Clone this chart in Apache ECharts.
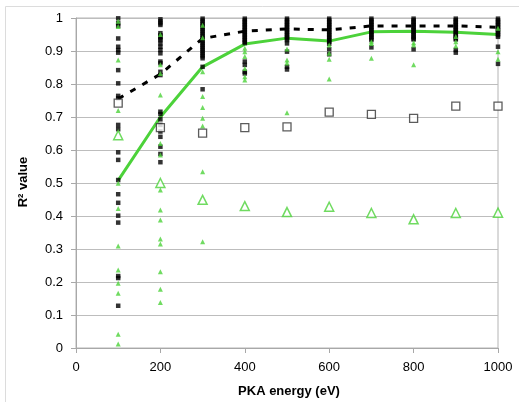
<!DOCTYPE html>
<html><head><meta charset="utf-8">
<script src="https://cdn.jsdelivr.net/npm/echarts@6/dist/echarts.min.js"></script>
<style>html,body{margin:0;padding:0;background:#fff}#c{width:519px;height:402px}</style>
</head><body><div id="c"></div>
<script>
var energies = [100, 200, 300, 400, 500, 600, 700, 800, 900, 1000];
var xTicks = [0, 200, 400, 600, 800, 1000];
var yTicks = [0, 0.1, 0.2, 0.3, 0.4, 0.5, 0.6, 0.7, 0.8, 0.9, 1];

// individual black values per energy
var black100 = [0.999, 0.984, 0.976, 0.938, 0.913, 0.903, 0.895, 0.842, 0.802, 0.764, 0.757, 0.676, 0.663, 0.593, 0.570, 0.509, 0.466, 0.440, 0.401, 0.380, 0.218, 0.212, 0.128];
var black200 = [0.996, 0.990, 0.984, 0.979, 0.954, 0.948, 0.943, 0.938, 0.933, 0.923, 0.913, 0.903, 0.893, 0.868, 0.863, 0.837, 0.827, 0.716, 0.709, 0.693, 0.676, 0.656, 0.640, 0.610, 0.588, 0.563];
var black300 = [0.998, 0.992, 0.986, 0.980, 0.974, 0.968, 0.962, 0.956, 0.950, 0.944, 0.938, 0.932, 0.926, 0.920, 0.914, 0.908, 0.902, 0.896, 0.890, 0.884, 0.878, 0.852, 0.784];
var black400 = [0.998, 0.993, 0.988, 0.983, 0.978, 0.973, 0.968, 0.963, 0.958, 0.953, 0.948, 0.943, 0.938, 0.933, 0.928, 0.924, 0.868, 0.858, 0.837, 0.832];
var black500 = [0.998, 0.993, 0.988, 0.983, 0.978, 0.973, 0.968, 0.963, 0.958, 0.953, 0.948, 0.943, 0.938, 0.933, 0.923, 0.898, 0.852, 0.844];
var black600 = [0.998, 0.993, 0.988, 0.983, 0.978, 0.973, 0.968, 0.963, 0.958, 0.953, 0.948, 0.943, 0.938, 0.933, 0.928, 0.922, 0.905, 0.890];
var black700 = [0.998, 0.993, 0.988, 0.983, 0.978, 0.973, 0.968, 0.963, 0.958, 0.953, 0.948, 0.943, 0.938, 0.933, 0.911];
var black800 = [0.998, 0.993, 0.988, 0.983, 0.978, 0.973, 0.968, 0.963, 0.958, 0.953, 0.948, 0.943, 0.938, 0.935, 0.905];
var black900 = [0.998, 0.993, 0.988, 0.983, 0.978, 0.973, 0.968, 0.963, 0.958, 0.953, 0.948, 0.943, 0.938, 0.935, 0.903, 0.895];
var black1000 = [0.998, 0.993, 0.988, 0.983, 0.978, 0.973, 0.968, 0.963, 0.958, 0.953, 0.948, 0.943, 0.913, 0.861];
var blackValues = [black100, black200, black300, black400, black500, black600, black700, black800, black900, black1000];

// individual green values per energy
var green100 = [0.990, 0.974, 0.873, 0.720, 0.499, 0.423, 0.309, 0.236, 0.196, 0.166, 0.042, 0.012];
var green200 = [0.950, 0.858, 0.832, 0.767, 0.620, 0.585, 0.479, 0.418, 0.388, 0.330, 0.315, 0.231, 0.178, 0.138];
var green300 = [0.978, 0.940, 0.837, 0.762, 0.729, 0.696, 0.673, 0.534, 0.322];
var green400 = [0.908, 0.898, 0.883, 0.847, 0.822, 0.812];
var green500 = [0.906, 0.873, 0.864, 0.713];
var green600 = [0.918, 0.893, 0.875, 0.815];
var green700 = [0.928, 0.923, 0.878];
var green800 = [0.925, 0.918, 0.858];
var green900 = [0.944, 0.928, 0.915];
var green1000 = [0.969, 0.898, 0.875];
var greenValues = [green100, green200, green300, green400, green500, green600, green700, green800, green900, green1000];

var blackMean = [0.755, 0.830, 0.938, 0.960, 0.967, 0.964, 0.976, 0.976, 0.976, 0.972];
var greenMean = [0.508, 0.700, 0.852, 0.921, 0.939, 0.930, 0.958, 0.960, 0.957, 0.950];
var blackOpen = [0.742, 0.668, 0.651, 0.668, 0.670, 0.715, 0.708, 0.696, 0.733, 0.733];
var greenOpen = [0.645, 0.500, 0.449, 0.430, 0.412, 0.428, 0.409, 0.390, 0.409, 0.410];

function flatten(lists) {
  var out = [];
  lists.forEach(function (vals, i) { vals.forEach(function (v) { out.push([energies[i], v]); }); });
  return out;
}
function pairs(vals) { return vals.map(function (v, i) { return [energies[i], v]; }); }

var GREEN = '#4cd23a';
var FONT = 'Liberation Sans, Arial, sans-serif';
var chart = echarts.init(document.getElementById('c'), null, {renderer: 'canvas'});
chart.setOption({
  animation: false,
  backgroundColor: '#fff',
  textStyle: {fontFamily: FONT},
  graphic: [
    {type: 'rect', shape: {x: 5.5, y: 6.5, width: 600, height: 500}, style: {fill: 'none', stroke: '#dcdcdc', lineWidth: 1}, silent: true, z: -10},
    {type: 'text', x: 289, y: 391, style: {text: 'PKA energy (eV)', font: 'bold 13px ' + FONT, fill: '#000', align: 'center', verticalAlign: 'middle'}},
    {type: 'text', x: 23, y: 182, rotation: Math.PI / 2,
     style: {text: 'R\u00b2 value', font: 'bold 13px ' + FONT, fill: '#000', align: 'center', verticalAlign: 'middle'}}
  ],
  grid: {left: 76, right: 21, top: 18, bottom: 54, show: true, borderColor: '#b4b4b4', borderWidth: 1, backgroundColor: 'transparent'},
  xAxis: {
    type: 'value', min: 0, max: 1000, interval: 200,
    axisLine: {show: true, lineStyle: {color: '#a8a8a8'}},
    axisTick: {show: true, length: 5, lineStyle: {color: '#a8a8a8'}},
    axisLabel: {color: '#000', fontSize: 13, margin: 13, formatter: function (v) { return String(v); }},
    splitLine: {show: false}
  },
  yAxis: {
    type: 'value', min: 0, max: 1, interval: 0.1,
    axisLine: {show: true, lineStyle: {color: '#a8a8a8'}},
    axisTick: {show: true, length: 5, lineStyle: {color: '#a8a8a8'}},
    axisLabel: {color: '#000', fontSize: 13, margin: 13, formatter: function (v) { return String(Math.round(v * 10) / 10); }},
    splitLine: {show: true, lineStyle: {color: '#bdbdbd', width: 1}}
  },
  series: [
    {type: 'line', data: pairs(blackMean), symbol: 'none', lineStyle: {color: '#000', width: 3, type: [6, 8]}, z: 2},
    {type: 'line', data: pairs(greenMean), symbol: 'none', lineStyle: {color: GREEN, width: 3}, z: 2},
    {type: 'scatter', data: flatten(blackValues), symbol: 'rect', symbolSize: 4.5, itemStyle: {color: '#000'}, z: 3},
    {type: 'scatter', data: flatten(greenValues), symbol: 'triangle', symbolSize: 5, itemStyle: {color: GREEN}, z: 3},
    {type: 'scatter', data: pairs(blackOpen), symbol: 'rect', symbolSize: 8, itemStyle: {color: '#fff', borderColor: '#333', borderWidth: 1.3}, z: 4},
    {type: 'scatter', data: pairs(greenOpen), symbol: 'triangle', symbolSize: 9, itemStyle: {color: '#fff', borderColor: GREEN, borderWidth: 1.5}, z: 4}
  ]
});
</script></body></html>
